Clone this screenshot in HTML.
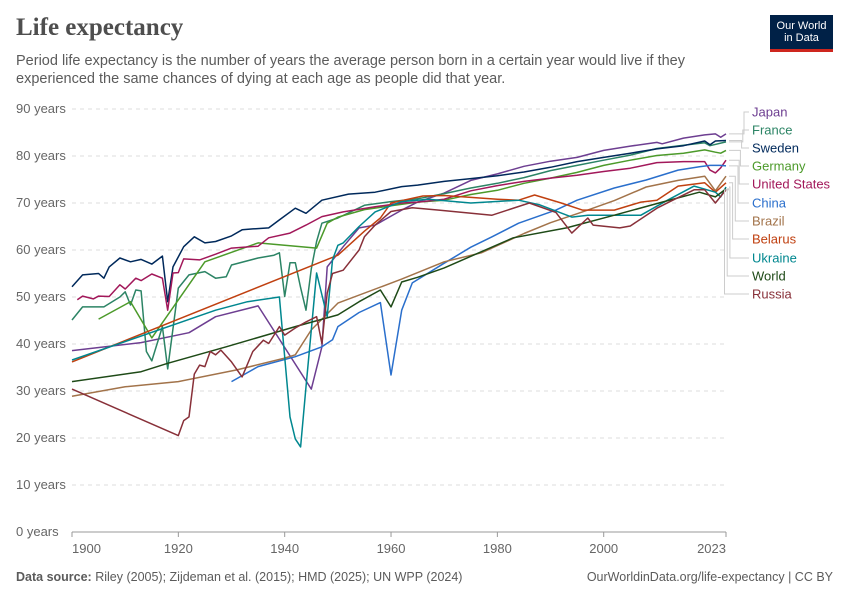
<!DOCTYPE html>
<html><head><meta charset="utf-8">
<style>
body{margin:0;background:#fff;font-family:"Liberation Sans",sans-serif;}
#wrap{position:relative;width:850px;height:600px;overflow:hidden;}
.t{position:absolute;white-space:nowrap;}
</style></head><body>
<div id="wrap">
<div class="t" style="left:16px;top:14px;font-family:'Liberation Serif',serif;font-size:25px;font-weight:bold;color:#4e4e4e;">Life expectancy</div>
<div class="t" style="left:16px;top:52px;font-size:14.5px;line-height:18px;color:#5b5b5b;">Period life expectancy is the number of years the average person born in a certain year would live if they<br>experienced the same chances of dying at each age as people did that year.</div>
<div style="position:absolute;left:770px;top:15px;width:63px;height:37px;background:#002147;border-bottom:3px solid #ce261e;color:#fff;font-size:11px;line-height:12px;text-align:center;padding-top:5px;box-sizing:border-box;">Our World<br>in Data</div>
<svg id="chart" width="850" height="600" style="position:absolute;left:0;top:0"></svg>
<div class="t" style="left:16px;top:570px;font-size:12.5px;color:#5b5b5b;"><b>Data source:</b> Riley (2005); Zijdeman et al. (2015); HMD (2025); UN WPP (2024)</div>
<div class="t" style="right:17px;top:570px;font-size:12.5px;color:#5b5b5b;">OurWorldinData.org/life-expectancy | CC BY</div>
</div>
<script>
const yTicks=[0,10,20,30,40,50,60,70,80,90];
const xTicks=[1900,1920,1940,1960,1980,2000,2023];
const seriesNames=["Japan","France","Sweden","Germany","United States","China","Brazil","Belarus","Ukraine","World","Russia"];
const japanYears=[1900,1913,1922,1927,1935,1945,1947,1948,1951,1954,1957,1962,1965,1970,1975,1980,1985,1990,1995,2000,2005,2010,2011,2015,2019,2021,2022,2023];
const japanValues=[38.6,40.3,42.4,45.8,48.1,30.4,39.4,56.4,60.7,64.7,65.3,68.5,70.2,72.1,74.8,76.2,77.8,78.9,79.7,81.2,82.1,82.9,82.6,83.8,84.5,84.7,84,84.7];
const franceYears=[1900,1902,1906,1909,1910,1911,1912,1913,1914,1915,1917,1918,1920,1922,1925,1927,1929,1930,1935,1938,1939,1940,1941,1942,1943,1944,1945,1946,1947,1950,1955,1960,1965,1970,1975,1980,1985,1990,1995,2000,2005,2010,2015,2019,2020,2023];
const franceValues=[45.1,47.9,47.9,50,51.1,48.3,51.5,51.3,38.4,36.4,43.7,34.7,51.9,54.7,55.4,54,54.3,56.8,58.3,58.9,59.4,50.1,57.3,57.3,52,47.2,56,61.8,65.7,66.8,69.5,70.3,70.9,72,73.2,74.2,75.4,76.9,78,79.1,80.2,81.6,82.3,82.8,82.2,83];
const swedenYears=[1900,1902,1905,1906,1907,1909,1911,1913,1915,1917,1918,1919,1921,1923,1925,1927,1930,1932,1934,1937,1939,1942,1944,1947,1952,1957,1962,1965,1970,1975,1980,1985,1990,1995,2000,2005,2010,2015,2019,2020,2021,2023];
const swedenValues=[52.2,54.7,55,54,56.4,58.3,57.5,58,57,58.7,49,56.4,60.7,62.8,61.5,61.8,63,64.3,64.5,64.7,66.4,68.9,67.8,70.6,71.9,72.3,73.5,73.8,74.6,75.2,75.8,76.6,77.6,78.8,79.7,80.6,81.5,82.2,83.2,82.4,83.2,83.3];
const germanyYears=[1905,1911,1915,1925,1935,1946,1948,1950,1955,1960,1965,1970,1975,1980,1985,1990,1995,2000,2005,2010,2015,2019,2021,2022,2023];
const germanyValues=[45.3,49,41.3,57.5,61.5,60.4,65.7,67,68.6,69.4,70.2,70.6,71.8,72.7,74.2,75.3,76.5,78,79.1,80.1,80.6,81.3,80.8,80.6,81.2];
const usYears=[1901,1902,1904,1905,1907,1909,1910,1912,1913,1915,1917,1918,1919,1920,1921,1924,1927,1930,1935,1937,1941,1944,1947,1951,1957,1962,1965,1970,1975,1980,1985,1990,1995,2000,2005,2010,2015,2019,2020,2021,2022,2023];
const usValues=[49.4,50.2,49.6,50.2,50.1,52.6,51.7,54,53.5,54.9,54,47.2,55.1,55.2,58.1,57.9,59.1,60.4,60.8,62.6,63.6,65.3,67.1,68.1,69.2,70,70.2,70.8,72.6,73.7,74.6,75.3,75.9,76.7,77.4,78.6,78.8,78.8,77,76.4,77.5,79.1];
const chinaYears=[1930,1935,1942,1947,1949,1950,1954,1958,1960,1962,1964,1970,1975,1979,1984,1991,1995,2002,2008,2014,2018,2020,2022,2023];
const chinaValues=[32,35.2,37.3,39.4,40.9,43.7,46.7,48.8,33.4,47.2,53,57.2,60.6,62.8,65.7,68.5,70.6,73.2,74.9,77,77.7,78,78,77.9];
const brazilYears=[1900,1910,1920,1931,1940,1942,1945,1950,1962,1970,1977,1985,1990,1996,2002,2008,2014,2019,2021,2023];
const brazilValues=[28.9,30.9,32,34.5,37,37.7,43,48.7,53.8,57.5,59.4,63.5,65.8,68.1,70.5,73.4,74.8,75.7,72.6,75.7];
const belarusYears=[1900,1950,1955,1958,1960,1966,1970,1975,1980,1984,1987,1992,1996,2002,2007,2010,2014,2019,2021,2023];
const belarusValues=[36.2,58.9,64,66.8,70,71.5,71.6,71.2,70.8,70.6,71.7,70,68.5,68.5,70.2,70.6,73.6,74.3,72.3,74.3];
const ukraineYears=[1900,1927,1933,1939,1941,1942,1943,1944,1946,1948,1949,1950,1951,1954,1957,1962,1967,1975,1984,1988,1994,1997,2002,2007,2012,2017,2021,2022,2023];
const ukraineValues=[36.6,47.2,49,50,24.5,19.8,18.1,30.9,55.1,45.8,57.9,61,61.5,65,68.1,70.3,70.8,70,70.6,69.6,67,67.4,67.4,67.4,70.6,73.6,72.3,71.3,73.4];
const worldYears=[1900,1913,1918,1929,1942,1950,1954,1958,1960,1962,1965,1970,1983,1993,2002,2011,2018,2021,2023];
const worldValues=[32,34.1,35.9,39.4,43.7,46.2,49,51.5,47.9,53.2,54.2,56.2,62.6,64.7,67.4,70.2,72.3,71.3,73];
const russiaYears=[1900,1920,1921,1922,1923,1924,1925,1926,1927,1928,1930,1932,1934,1936,1937,1939,1940,1942,1944,1946,1947,1948,1949,1951,1954,1955,1957,1960,1964,1969,1979,1986,1991,1994,1997,1998,2003,2005,2010,2013,2017,2019,2021,2023];
const russiaValues=[30.4,20.5,23.7,24.5,33.6,35.5,35.2,38.4,37.7,38.7,36.2,33,38.4,40.8,40.1,43.7,41.9,43.4,44.7,45.8,40.1,50.8,55,55.7,60,62.8,65.3,68.2,69,68.5,67.4,70,68,63.6,66.8,65.3,64.7,65.1,68.9,70.6,72.8,72.8,70,72.8];
const seriesYears=[japanYears,franceYears,swedenYears,germanyYears,usYears,chinaYears,brazilYears,belarusYears,ukraineYears,worldYears,russiaYears];
const seriesValues=[japanValues,franceValues,swedenValues,germanyValues,usValues,chinaValues,brazilValues,belarusValues,ukraineValues,worldValues,russiaValues];
const colors=["#6d3e91","#2c8465","#00295b","#4c9a2a","#a2185a","#2a6fcc","#a2734a","#c04010","#00878f","#1e4a17","#883039"];
const labelY=[112,130,148,166,184,203,221,239,258,276,294];
const X0=72,X1=726,Y0=532,Y1=109,yrMin=1900,yrMax=2023,vMax=90;
function xs(y){return X0+(y-yrMin)/(yrMax-yrMin)*(X1-X0);}
function ys(v){return Y0-v/vMax*(Y0-Y1);}
const svg=document.getElementById('chart');
const NS='http://www.w3.org/2000/svg';
function mk(tag,at){const e=document.createElementNS(NS,tag);for(const k in at)e.setAttribute(k,at[k]);svg.appendChild(e);return e;}
yTicks.forEach(v=>{
  const l=mk('line',{x1:X0,x2:X1,y1:ys(v),y2:ys(v),stroke:v===0?'#999':'#ddd','stroke-dasharray':v===0?'':'4,4'});
  
  
  const t=mk('text',{x:16,y:ys(v)+4,'font-size':13,fill:'#666','font-family':'Liberation Sans,sans-serif'});
  t.textContent=v+' years';
  
  
});
xTicks.forEach((yr,i)=>{
  const t=mk('text',{x:xs(yr),y:553,'font-size':13,fill:'#666','text-anchor':i===0?'start':(i===xTicks.length-1?'end':'middle'),'font-family':'Liberation Sans,sans-serif'});
  t.textContent=yr;
  
  
  const tk=mk('line',{x1:xs(yr),x2:xs(yr),y1:Y0,y2:Y0+5,stroke:'#999'});
  
  
});
seriesNames.forEach((n,i)=>{
  const yrs=seriesYears[i],vals=seriesValues[i];
  const pts=yrs.map((y,j)=>xs(y).toFixed(1)+','+ys(vals[j]).toFixed(1)).join(' ');
  const p=mk('polyline',{points:pts,fill:'none',stroke:colors[i],'stroke-width':1.5,'stroke-linejoin':'round'});
  
  
  const endY=ys(vals[vals.length-1]);
  const kx=744-i*1.2-(i>5?(i-5)*1.5:0);
  const c=mk('polyline',{points:`${X1+3},${endY} ${kx},${endY} ${kx},${labelY[i]} 749,${labelY[i]}`,fill:'none',stroke:'#ccc','stroke-width':1});
  
  
  const t=mk('text',{x:752,y:labelY[i]+4.5,'font-size':13,fill:colors[i],'font-family':'Liberation Sans,sans-serif'});
  t.textContent=n;
  
  
});
</script>
</body></html>
